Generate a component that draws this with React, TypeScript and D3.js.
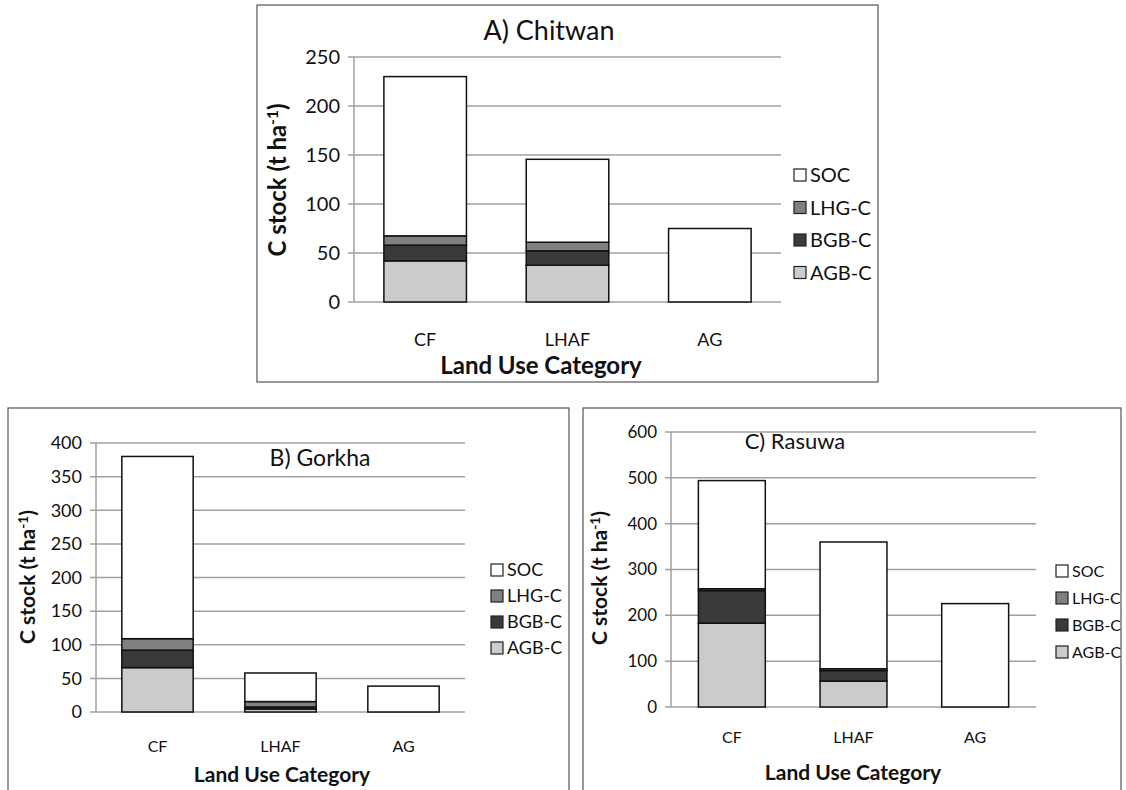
import * as d3 from "d3";

const categories = ["CF", "LHAF", "AG"];
const seriesKeys = ["AGB-C", "BGB-C", "LHG-C", "SOC"];
const legendOrder = ["SOC", "LHG-C", "BGB-C", "AGB-C"];

// A) Chitwan
const chitwanAGB = [42, 37.5, 0];
const chitwanBGB = [16, 14.7, 0];
const chitwanLHG = [9.5, 8.8, 0];
const chitwanSOC = [162.5, 84.6, 75];

// B) Gorkha
const gorkhaAGB = [66, 4.5, 0];
const gorkhaBGB = [26, 3, 0];
const gorkhaLHG = [17, 8, 0];
const gorkhaSOC = [271, 42.5, 38.5];

// C) Rasuwa
const rasuwaAGB = [183, 56.5, 0];
const rasuwaBGB = [71, 23, 0];
const rasuwaLHG = [4, 4, 0];
const rasuwaSOC = [236, 276.5, 225.6];

const colors: Record<string, string> = {
  SOC: "#ffffff",
  "LHG-C": "#808080",
  "BGB-C": "#3a3a3a",
  "AGB-C": "#cbcbcb",
};

const FONT = "Lato, 'Open Sans', sans-serif";

function toRows(agb: number[], bgb: number[], lhg: number[], soc: number[]) {
  return categories.map((c, i) => ({
    cat: c,
    "AGB-C": agb[i],
    "BGB-C": bgb[i],
    "LHG-C": lhg[i],
    SOC: soc[i],
  }));
}

type PanelProps = {
  title: string;
  rows: any[];
  frame: [number, number, number, number];
  plot: { left: number; right: number; top: number; bottom: number };
  yMax: number;
  step: number;
  padding: number;
  titlePos: [number, number, number];
  yLabel: [number, number, number];
  xLabel: [number, number, number];
  catY: number;
  tickFont: number;
  catFont: number;
  legend: [number, number, number, number];
};

function Panel(p: PanelProps) {
  const { plot } = p;
  const x = d3
    .scaleBand()
    .domain(categories)
    .range([plot.left, plot.right])
    .paddingInner(p.padding)
    .paddingOuter(p.padding / 2);
  const y = d3.scaleLinear().domain([0, p.yMax]).range([plot.bottom, plot.top]);
  const layers = d3.stack<any>().keys(seriesKeys)(p.rows);
  const ticks = d3.range(0, p.yMax + 0.001, p.step);
  const [lx, ly, lgap, lfont] = p.legend;

  return (
    <g>
      <rect x={p.frame[0]} y={p.frame[1]} width={p.frame[2]} height={p.frame[3]} fill="#fff" stroke="#555" strokeWidth={1.2} />
      {ticks.map((t) => (
        <g key={t}>
          <line x1={plot.left - 6} x2={plot.right} y1={y(t)} y2={y(t)} stroke="#a0a0a0" strokeWidth={1.5} />
          <text x={plot.left - 14} y={y(t)} dy="0.35em" textAnchor="end" fontSize={p.tickFont} fontFamily={FONT} fill="#111">
            {t}
          </text>
        </g>
      ))}
      <line x1={plot.left} x2={plot.left} y1={plot.top} y2={plot.bottom} stroke="#a0a0a0" strokeWidth={1.5} />
      {layers.map((layer) => (
        <g key={layer.key} fill={colors[layer.key]}>
          {layer.map((d, i) =>
            d[1] - d[0] > 0 ? (
              <rect
                key={i}
                x={x(d.data.cat)}
                width={x.bandwidth()}
                y={y(d[1])}
                height={y(d[0]) - y(d[1])}
                stroke="#111"
                strokeWidth={1.5}
              />
            ) : null
          )}
        </g>
      ))}
      {categories.map((c) => (
        <text key={c} x={(x(c) as number) + x.bandwidth() / 2} y={p.catY} textAnchor="middle" fontSize={p.catFont} fontFamily={FONT} fill="#111">
          {c}
        </text>
      ))}
      <text x={p.titlePos[0]} y={p.titlePos[1]} textAnchor="middle" fontSize={p.titlePos[2]} fontFamily={FONT} fill="#111">
        {p.title}
      </text>
      <text
        transform={`translate(${p.yLabel[0]},${p.yLabel[1]}) rotate(-90)`}
        textAnchor="middle"
        fontSize={p.yLabel[2]}
        fontWeight="bold"
        fontFamily={FONT}
        fill="#111"
      >
        C stock (t ha
        <tspan dy={-p.yLabel[2] * 0.35} fontSize={p.yLabel[2] * 0.65}>-1</tspan>
        <tspan dy={p.yLabel[2] * 0.35}>)</tspan>
      </text>
      <text x={p.xLabel[0]} y={p.xLabel[1]} textAnchor="middle" fontSize={p.xLabel[2]} fontWeight="bold" fontFamily={FONT} fill="#111">
        Land Use Category
      </text>
      {legendOrder.map((k, i) => (
        <g key={k} transform={`translate(${lx},${ly + i * lgap})`}>
          <rect x={0} y={-6} width={12} height={12} fill={colors[k]} stroke="#222" strokeWidth={1.2} />
          <text x={16} y={0} dy="0.35em" fontSize={lfont} fontFamily={FONT} fill="#111">
            {k}
          </text>
        </g>
      ))}
    </g>
  );
}

export default function App() {
  return (
    <svg width={1126} height={790} style={{ position: "absolute", left: 0, top: 0, background: "#fff" }}>
      <Panel
        title="A) Chitwan"
        rows={toRows(chitwanAGB, chitwanBGB, chitwanLHG, chitwanSOC)}
        frame={[257, 5, 621, 377]}
        plot={{ left: 354, right: 781, top: 57, bottom: 302 }}
        yMax={250}
        step={50}
        padding={0.42}
        titlePos={[549, 40, 27]}
        yLabel={[286, 180, 24]}
        xLabel={[541, 374, 24]}
        catY={346}
        tickFont={20}
        catFont={18}
        legend={[794, 175, 32.5, 20]}
      />
      <Panel
        title="B) Gorkha"
        rows={toRows(gorkhaAGB, gorkhaBGB, gorkhaLHG, gorkhaSOC)}
        frame={[8, 408, 561, 400]}
        plot={{ left: 96, right: 465, top: 443, bottom: 712 }}
        yMax={400}
        step={50}
        padding={0.42}
        titlePos={[320, 466, 23]}
        yLabel={[35, 577, 21]}
        xLabel={[282, 782, 21]}
        catY={752}
        tickFont={18}
        catFont={16}
        legend={[491, 570, 26, 18]}
      />
      <Panel
        title="C) Rasuwa"
        rows={toRows(rasuwaAGB, rasuwaBGB, rasuwaLHG, rasuwaSOC)}
        frame={[583, 408, 538, 400]}
        plot={{ left: 671, right: 1036, top: 432, bottom: 707 }}
        yMax={600}
        step={100}
        padding={0.45}
        titlePos={[795, 449, 22]}
        yLabel={[607, 578, 21]}
        xLabel={[853, 780, 21]}
        catY={743}
        tickFont={17}
        catFont={16}
        legend={[1056, 571, 27, 16]}
      />
    </svg>
  );
}
